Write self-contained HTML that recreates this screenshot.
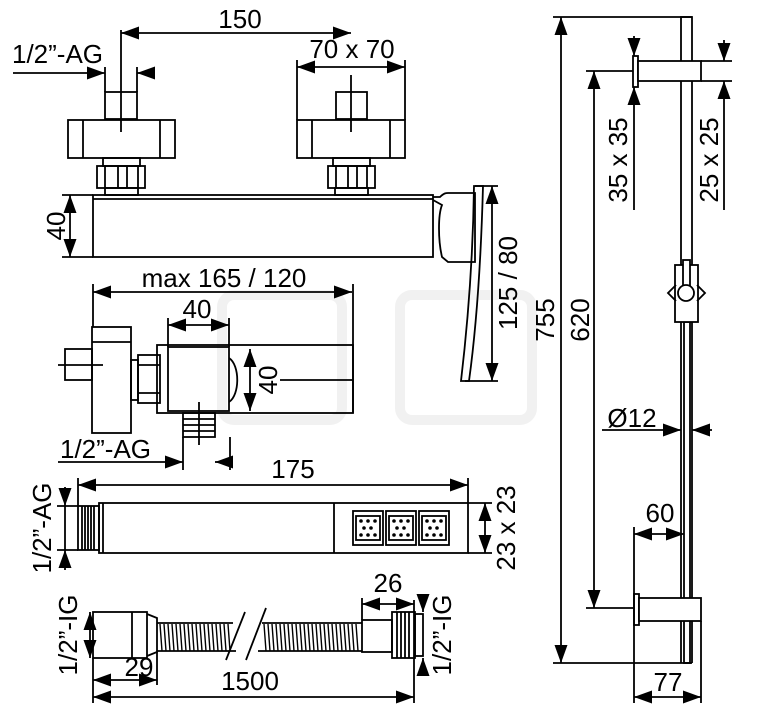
<!DOCTYPE html>
<html><head><meta charset="utf-8"><style>
html,body{margin:0;padding:0;background:#fff;}
svg{display:block;}
text{font-family:"Liberation Sans",sans-serif;font-size:26px;fill:#000;}
</style></head><body>
<svg width="767" height="709" viewBox="0 0 767 709" xmlns="http://www.w3.org/2000/svg">
<defs>
<marker id="a" markerUnits="userSpaceOnUse" markerWidth="19" markerHeight="13" refX="18" refY="6.5" orient="auto-start-reverse"><path d="M0,0 L18,6.5 L0,13 z" fill="#000"/></marker>
</defs>
<!-- watermark -->
<g fill="none" stroke="#f1f1f1" stroke-width="10">
<rect x="222" y="295" width="120" height="125" rx="12"/>
<rect x="400" y="295" width="132" height="125" rx="12"/>
</g>
<g fill="none" stroke="#000" stroke-width="1.8">
<!-- TOP FITTING -->
<line x1="121" y1="33" x2="351" y2="33" marker-start="url(#a)" marker-end="url(#a)"/>
<line x1="13" y1="73" x2="105" y2="73" marker-end="url(#a)"/>
<line x1="151" y1="73" x2="137" y2="73" marker-end="url(#a)"/>
<line x1="105" y1="67" x2="105" y2="92"/><line x1="137" y1="67" x2="137" y2="92"/>
<line x1="121" y1="30" x2="121" y2="132"/>
<rect x="105" y="92" width="32" height="27"/>
<rect x="68" y="120" width="107" height="38"/>
<line x1="83" y1="120" x2="83" y2="158"/><line x1="160" y1="120" x2="160" y2="158"/>
<rect x="103" y="158" width="37" height="8"/>
<rect x="97" y="166" width="48" height="22"/>
<line x1="105" y1="166" x2="105" y2="188"/><line x1="118" y1="166" x2="118" y2="188"/><line x1="127" y1="166" x2="127" y2="188"/><line x1="138" y1="166" x2="138" y2="188"/>
<rect x="105" y="188" width="33" height="7"/>
<line x1="297" y1="67" x2="405" y2="67" marker-start="url(#a)" marker-end="url(#a)"/>
<line x1="297" y1="60" x2="297" y2="120"/><line x1="405" y1="60" x2="405" y2="120"/>
<line x1="351" y1="75" x2="351" y2="132"/>
<rect x="336" y="92" width="31" height="27"/>
<rect x="297" y="120" width="108" height="38"/>
<line x1="312" y1="120" x2="312" y2="158"/><line x1="390" y1="120" x2="390" y2="158"/>
<rect x="333" y="158" width="37" height="8"/>
<rect x="328" y="166" width="47" height="22"/>
<line x1="336" y1="166" x2="336" y2="188"/><line x1="348" y1="166" x2="348" y2="188"/><line x1="357" y1="166" x2="357" y2="188"/><line x1="367" y1="166" x2="367" y2="188"/>
<rect x="335" y="188" width="33" height="7"/>
<!-- main body -->
<rect x="93" y="195" width="340" height="62"/>
<line x1="93" y1="199" x2="433" y2="199"/>
<line x1="62" y1="195" x2="93" y2="195"/><line x1="62" y1="257" x2="93" y2="257"/>
<line x1="70" y1="195" x2="70" y2="257" marker-start="url(#a)" marker-end="url(#a)"/>
<!-- handle -->
<path d="M433,197 L440,197 C444,193 446,193 448,193 L475,193 L475,262 L448,262 L442,257 C438,240 438,215 442,205 L433,200"/>
<path d="M474,186 L483,186 C481,260 476,330 469,381 L461,381 C467,330 473,260 474,186 Z"/>
<line x1="475" y1="186" x2="498" y2="186"/><line x1="465" y1="381" x2="498" y2="381"/>
<line x1="492" y1="186" x2="492" y2="381" marker-start="url(#a)" marker-end="url(#a)"/>
<!-- MIDDLE SIDE VIEW -->
<line x1="93" y1="292" x2="352" y2="292" marker-start="url(#a)" marker-end="url(#a)"/>
<line x1="93" y1="284" x2="93" y2="327"/><line x1="353" y1="284" x2="353" y2="413"/>
<line x1="168" y1="325" x2="229" y2="325" marker-start="url(#a)" marker-end="url(#a)"/>
<line x1="168" y1="318" x2="168" y2="347"/><line x1="229" y1="318" x2="229" y2="347"/>
<rect x="92" y="327" width="39" height="106"/>
<line x1="92" y1="342" x2="131" y2="342"/>
<rect x="65" y="349" width="27" height="31"/>
<line x1="58" y1="365" x2="103" y2="365"/>
<rect x="131" y="360" width="7" height="40"/>
<rect x="138" y="355" width="22" height="48"/>
<line x1="138" y1="365" x2="160" y2="365"/><line x1="138" y1="393" x2="160" y2="393"/>
<rect x="157" y="345" width="196" height="68"/>
<rect x="168" y="347" width="61" height="64"/>
<path d="M229,358 C240,365 240,395 229,402"/>
<line x1="280" y1="380" x2="353" y2="380"/>
<line x1="250" y1="349" x2="250" y2="411" marker-start="url(#a)" marker-end="url(#a)"/>
<rect x="183" y="413" width="32" height="24"/>
<line x1="183" y1="419" x2="215" y2="419"/><line x1="183" y1="425" x2="215" y2="425"/><line x1="183" y1="431" x2="215" y2="431"/>
<line x1="199" y1="402" x2="199" y2="445"/>
<line x1="183" y1="437" x2="183" y2="470"/><line x1="230" y1="437" x2="230" y2="470"/>
<line x1="58" y1="462" x2="183" y2="462" marker-end="url(#a)"/>
<line x1="230" y1="462" x2="215" y2="462" marker-end="url(#a)"/>
<!-- HAND SHOWER -->
<line x1="78" y1="485" x2="468" y2="485" marker-start="url(#a)" marker-end="url(#a)"/>
<line x1="78" y1="478" x2="78" y2="506"/><line x1="468" y1="478" x2="468" y2="503"/>
<rect x="78" y="506" width="21" height="44"/>
<line x1="82" y1="506" x2="82" y2="550"/><line x1="85" y1="506" x2="85" y2="550"/><line x1="88" y1="506" x2="88" y2="550"/><line x1="91" y1="506" x2="91" y2="550"/><line x1="94" y1="506" x2="94" y2="550"/>
<rect x="99" y="503" width="369" height="50"/>
<line x1="103" y1="503" x2="103" y2="553"/>
<line x1="334" y1="503" x2="334" y2="553"/>
<rect x="353" y="511" width="30" height="34"/><rect x="386" y="511" width="30" height="34"/><rect x="419" y="511" width="30" height="34"/>
<rect x="356" y="516" width="24" height="24"/><rect x="389" y="516" width="24" height="24"/><rect x="422" y="516" width="24" height="24"/>
<line x1="468" y1="503" x2="492" y2="503"/><line x1="468" y1="553" x2="492" y2="553"/>
<line x1="485" y1="503" x2="485" y2="553" marker-start="url(#a)" marker-end="url(#a)"/>
<line x1="57" y1="506" x2="78" y2="506"/><line x1="57" y1="550" x2="78" y2="550"/>
<line x1="65" y1="487" x2="65" y2="506" marker-end="url(#a)"/>
<line x1="65" y1="570" x2="65" y2="550" marker-end="url(#a)"/>
<line x1="65" y1="506" x2="65" y2="550"/>
<!-- HOSE -->
<rect x="93" y="612" width="54" height="46"/>
<line x1="132" y1="612" x2="132" y2="658"/>
<path d="M147,614 L157,618 L157,652 L147,656"/>
<path d="M157,623 L233,623 M157,651 L236,651 M262,623 L362,623 M258,651 L362,651"/>
<line x1="245" y1="612" x2="226" y2="660"/><line x1="266" y1="608" x2="246" y2="660"/>
<rect x="362" y="620" width="30" height="32"/>
<rect x="392" y="612" width="23" height="46"/>
<line x1="397" y1="612" x2="397" y2="658"/><line x1="401" y1="612" x2="401" y2="658"/><line x1="405" y1="612" x2="405" y2="658"/><line x1="409" y1="612" x2="409" y2="658"/>
<rect x="415" y="614" width="8" height="42"/>
<line x1="93" y1="658" x2="93" y2="703"/><line x1="157" y1="652" x2="157" y2="685"/>
<line x1="93" y1="680" x2="157" y2="680" marker-start="url(#a)" marker-end="url(#a)"/>
<line x1="93" y1="697" x2="414" y2="697" marker-start="url(#a)" marker-end="url(#a)"/>
<line x1="414" y1="600" x2="414" y2="703"/><line x1="362" y1="598" x2="362" y2="620"/>
<line x1="362" y1="604" x2="414" y2="604" marker-start="url(#a)" marker-end="url(#a)"/>
<line x1="90" y1="612" x2="90" y2="658" marker-start="url(#a)" marker-end="url(#a)"/>
<line x1="423" y1="594" x2="423" y2="612" marker-end="url(#a)"/>
<line x1="423" y1="676" x2="423" y2="658" marker-end="url(#a)"/>
<!-- RAIL -->
<line x1="553" y1="17" x2="692" y2="17"/>
<line x1="553" y1="663" x2="692" y2="663"/>
<line x1="561" y1="17" x2="561" y2="663" marker-start="url(#a)" marker-end="url(#a)"/>
<line x1="586" y1="71" x2="633" y2="71"/><line x1="586" y1="608" x2="634" y2="608"/>
<line x1="594" y1="71" x2="594" y2="608" marker-start="url(#a)" marker-end="url(#a)"/>
<rect x="681" y="17" width="11" height="248"/>
<rect x="684" y="322" width="6" height="341"/>
<line x1="681" y1="322" x2="681" y2="663"/><line x1="692" y1="322" x2="692" y2="663"/>
<rect x="633" y="56" width="5" height="31"/>
<rect x="638" y="61" width="63" height="20" fill="#fff"/>
<line x1="701" y1="61" x2="732" y2="61"/><line x1="701" y1="81" x2="732" y2="81"/>
<line x1="634" y1="36" x2="634" y2="56" marker-end="url(#a)"/>
<line x1="634" y1="210" x2="634" y2="87" marker-end="url(#a)"/>
<line x1="724" y1="40" x2="724" y2="61" marker-end="url(#a)"/>
<line x1="724" y1="210" x2="724" y2="81" marker-end="url(#a)"/>
<rect x="675" y="265" width="23" height="57" fill="#fff"/>
<rect x="683" y="260" width="7" height="30" fill="#fff"/>
<path d="M676,285 L668,293 L676,301 M697,285 L705,293 L697,301"/>
<circle cx="686" cy="293" r="8" fill="#fff"/>
<line x1="602" y1="430" x2="681" y2="430" marker-end="url(#a)"/>
<line x1="712" y1="430" x2="692" y2="430" marker-end="url(#a)"/>
<line x1="634" y1="527" x2="634" y2="703"/>
<line x1="634" y1="534" x2="684" y2="534" marker-start="url(#a)" marker-end="url(#a)"/>
<rect x="634" y="594" width="5" height="31"/>
<rect x="639" y="598" width="62" height="23" fill="#fff"/>
<line x1="701" y1="621" x2="701" y2="703"/>
<line x1="634" y1="697" x2="701" y2="697" marker-start="url(#a)" marker-end="url(#a)"/>
</g>
<!-- hose corrugation -->
<g stroke="#000" stroke-width="1.4">
<path d="M160,624 l2,27 M164,624 l2,27 M168,624 l2,27 M172,624 l2,27 M176,624 l2,27 M180,624 l2,27 M184,624 l2,27 M188,624 l2,27 M192,624 l2,27 M196,624 l2,27 M200,624 l2,27 M204,624 l2,27 M208,624 l2,27 M212,624 l2,27 M216,624 l2,27 M220,624 l2,27 M224,624 l2,27 M228,624 l2,27
M264,624 l2,27 M268,624 l2,27 M272,624 l2,27 M276,624 l2,27 M280,624 l2,27 M284,624 l2,27 M288,624 l2,27 M292,624 l2,27 M296,624 l2,27 M300,624 l2,27 M304,624 l2,27 M308,624 l2,27 M312,624 l2,27 M316,624 l2,27 M320,624 l2,27 M324,624 l2,27 M328,624 l2,27 M332,624 l2,27 M336,624 l2,27 M340,624 l2,27 M344,624 l2,27 M348,624 l2,27 M352,624 l2,27 M356,624 l2,27"/>
</g>
<g fill="#000">
<circle cx="361" cy="521" r="1.8"/><circle cx="368" cy="521" r="1.8"/><circle cx="375" cy="521" r="1.8"/><circle cx="364" cy="528" r="1.8"/><circle cx="371" cy="528" r="1.8"/><circle cx="361" cy="535" r="1.8"/><circle cx="368" cy="535" r="1.8"/><circle cx="375" cy="535" r="1.8"/>
<circle cx="394" cy="521" r="1.8"/><circle cx="401" cy="521" r="1.8"/><circle cx="408" cy="521" r="1.8"/><circle cx="397" cy="528" r="1.8"/><circle cx="404" cy="528" r="1.8"/><circle cx="394" cy="535" r="1.8"/><circle cx="401" cy="535" r="1.8"/><circle cx="408" cy="535" r="1.8"/>
<circle cx="427" cy="521" r="1.8"/><circle cx="434" cy="521" r="1.8"/><circle cx="441" cy="521" r="1.8"/><circle cx="430" cy="528" r="1.8"/><circle cx="437" cy="528" r="1.8"/><circle cx="427" cy="535" r="1.8"/><circle cx="434" cy="535" r="1.8"/><circle cx="441" cy="535" r="1.8"/>
</g>
<!-- text -->
<text x="240" y="28" text-anchor="middle">150</text>
<text x="12" y="63">1/2”-AG</text>
<text x="352" y="58" text-anchor="middle">70 x 70</text>
<text x="224" y="287" text-anchor="middle">max 165 / 120</text>
<text x="197" y="318" text-anchor="middle">40</text>
<text x="60" y="458">1/2”-AG</text>
<text x="293" y="478" text-anchor="middle">175</text>
<text x="388" y="592" text-anchor="middle">26</text>
<text x="139" y="676" text-anchor="middle">29</text>
<text x="250" y="690" text-anchor="middle">1500</text>
<text x="632" y="427" text-anchor="middle">Ø12</text>
<text x="660" y="522" text-anchor="middle">60</text>
<text x="668" y="691" text-anchor="middle">77</text>
<text transform="translate(56,226) rotate(-90)" text-anchor="middle" dy="9">40</text>
<text transform="translate(508,283) rotate(-90)" text-anchor="middle" dy="9">125 / 80</text>
<text transform="translate(268,380) rotate(-90)" text-anchor="middle" dy="9">40</text>
<text transform="translate(42,528) rotate(-90)" text-anchor="middle" dy="9">1/2”-AG</text>
<text transform="translate(506,528) rotate(-90)" text-anchor="middle" dy="9">23 x 23</text>
<text transform="translate(68,635) rotate(-90)" text-anchor="middle" dy="9">1/2”-IG</text>
<text transform="translate(442,635) rotate(-90)" text-anchor="middle" dy="9">1/2”-IG</text>
<text transform="translate(545,320) rotate(-90)" text-anchor="middle" dy="9">755</text>
<text transform="translate(580,320) rotate(-90)" text-anchor="middle" dy="9">620</text>
<text transform="translate(618,160) rotate(-90)" text-anchor="middle" dy="9">35 x 35</text>
<text transform="translate(709,160) rotate(-90)" text-anchor="middle" dy="9">25 x 25</text>
</svg>
</body></html>
